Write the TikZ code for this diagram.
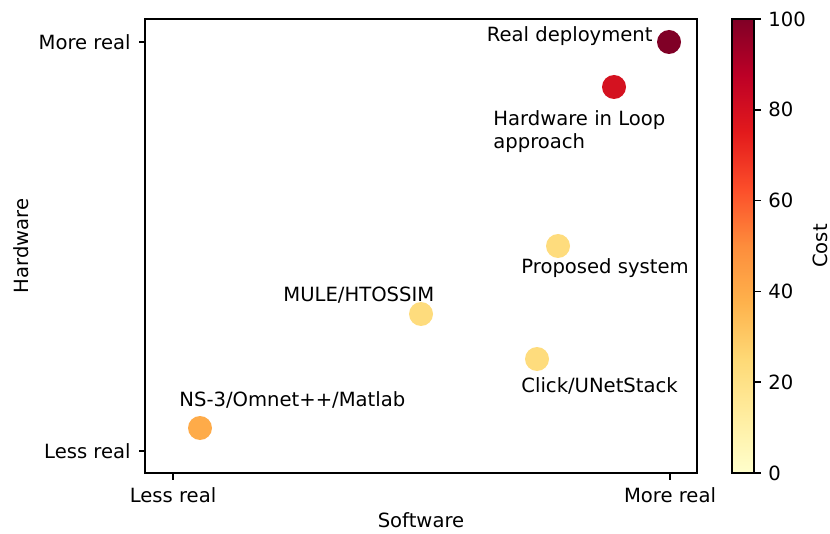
\documentclass[tikz,border=0pt]{standalone}
\usepackage{fontspec}
\usepackage{xcolor}
\usepackage{tikz}
\setmainfont{DejaVu Sans}
% YlOrRd steps for the cost bar
\definecolor{ylorA}{RGB}{255,255,204}
\definecolor{ylorB}{RGB}{255,237,160}
\definecolor{ylorC}{RGB}{254,217,118}
\definecolor{ylorD}{RGB}{254,178,76}
\definecolor{ylorE}{RGB}{253,141,60}
\definecolor{ylorF}{RGB}{252,78,42}
\definecolor{ylorG}{RGB}{227,26,28}
\definecolor{ylorH}{RGB}{189,0,38}
\definecolor{ylorI}{RGB}{128,0,38}
\definecolor{costtop}{RGB}{128,0,38}
\definecolor{costhil}{RGB}{212,18,32}
\definecolor{costmid}{RGB}{254,220,125}
\definecolor{costns}{RGB}{254,171,73}

\begin{document}
\begin{tikzpicture}[x=0.5pt, y=-0.5pt, font=\fontsize{9.8}{11.4}\selectfont,
  spine/.style={line width=0.78pt},
  dot/.style={circle, fill=#1, inner sep=0pt, minimum size=12pt},
  lbl/.style={inner sep=0pt}]
  \useasboundingbox (0,0) rectangle (830,534);
  % axes frame
  \draw[spine] (145,19) rectangle (697,473);
  \foreach \y/\t in {42/More real, 451/Less real} {
    \draw[spine] (145,\y) -- (138.5,\y);
    \node[lbl, anchor=east] (ytick\y) at (131,\y) {\t};
  }
  \foreach \x/\t in {173/Less real, 670/More real} {
    \draw[spine] (\x,473) -- (\x,479.5);
    \node[lbl, anchor=north] (xtick\x) at (\x,487) {\t};
  }
  \node[lbl, anchor=base] (xlabel) at (421,527) {Software};
  \node[lbl, anchor=base, rotate=90] (ylabel) at (28,246) {Hardware};
  % the tools
  \node[dot=costtop] (real) at (669,42) {};
  \node[dot=costhil] (hil) at (614,87) {};
  \node[dot=costmid] (prop) at (558,246) {};
  \node[dot=costmid] (mule) at (421,314) {};
  \node[dot=costmid] (click) at (537,359) {};
  \node[dot=costns] (ns) at (200,428) {};
  \node[lbl, anchor=base east] (reallbl) at (653,42) {Real deployment};
  \node[lbl, anchor=north west, align=left] (hillbl) at (493,110.5) {Hardware in Loop\\approach};
  \node[lbl, anchor=base west] (proplbl) at (521,274) {Proposed system};
  \node[lbl, anchor=base west] (mulelbl) at (283,302) {MULE/HTOSSIM};
  \node[lbl, anchor=base west] (clicklbl) at (521,392) {Click/UNetStack};
  \node[lbl, anchor=base west] (nslbl) at (179,406) {NS-3/Omnet++/Matlab};
  % cost bar
  \foreach \lo/\hi [count=\i from 0] in {ylorA/ylorB, ylorB/ylorC, ylorC/ylorD, ylorD/ylorE, ylorE/ylorF, ylorF/ylorG, ylorG/ylorH, ylorH/ylorI} {
    \shade[bottom color=\lo, top color=\hi] (732,{473-\i*56.75}) rectangle (754,{473-(\i+1)*56.75-0.3});
  }
  \draw[spine] (732,19) rectangle (754,473);
  \foreach \v in {0,20,...,100} {
    \draw[spine] (754,{473-4.54*\v}) -- (760.5,{473-4.54*\v});
    \node[lbl, anchor=west] (cb\v) at (768,{473-4.54*\v}) {\v};
  }
  \node[lbl, anchor=base, rotate=90] (costlbl) at (827,246) {Cost};
\end{tikzpicture}
\end{document}
